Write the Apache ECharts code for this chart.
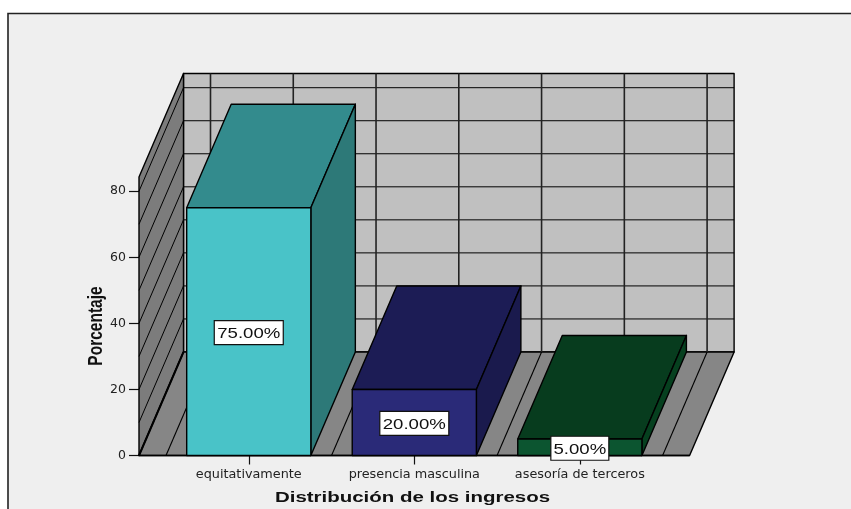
<!DOCTYPE html>
<html>
<head>
<meta charset="utf-8">
<style>html,body{margin:0;padding:0;background:#fff}#c{width:851px;height:509px}</style>
<script src="https://cdn.jsdelivr.net/npm/echarts@6/dist/echarts.min.js"></script>
</head>
<body>
<div id="c"></div>
<script>
const categories = ['equitativamente', 'presencia masculina', 'asesoría de terceros'];
const values = [75, 20, 5];
const valueLabels = ['75.00%', '20.00%', '5.00%'];
const frontColors = ['#49c3c8', '#2a2a78', '#0c5530'];
const topColors = ['#338b8d', '#1c1c55', '#073c1e'];
const sideColors = ['#2d7978', '#1a1a4d', '#06401f'];
const yTicks = [0, 20, 40, 60, 80];
const wallLines = [10, 20, 30, 40, 50, 60, 70, 80];
const axisTop = 84.3;
const xTitle = 'Distribución de los ingresos';
const yTitle = 'Porcentaje';
const depthX = 44.5, depthY = 103.5, sidePad = 27;

const chart = echarts.init(document.getElementById('c'), null, {renderer: 'canvas'});
const black = '#000';

function line(x1, y1, x2, y2, w, color) {
  return {type: 'line', shape: {x1, y1, x2, y2}, style: {stroke: color || black, lineWidth: w || 1}};
}
function poly(points, fill) {
  return {type: 'polygon', shape: {points}, style: {fill, stroke: black, lineWidth: 1.4, lineJoin: 'round'}};
}

function renderRoom(params, api) {
  const band = api.size([1, 0])[0];
  const x0 = api.coord([0, 0])[0] - band / 2;
  const yOf = v => api.coord([0, v])[1];
  const left = x0 - sidePad, right = x0 + 3 * band + sidePad;
  const y0 = yOf(0), yT = yOf(axisTop);
  const kids = [
    poly([[left + depthX, yT - depthY], [right + depthX, yT - depthY], [right + depthX, y0 - depthY], [left + depthX, y0 - depthY]], '#c0c0c0'),
    poly([[left, yT], [left + depthX, yT - depthY], [left + depthX, y0 - depthY], [left, y0]], '#7c7c7c'),
    poly([[left, y0], [right, y0], [right + depthX, y0 - depthY], [left + depthX, y0 - depthY]], '#868686')
  ];
  wallLines.forEach(v => {
    const y = yOf(v);
    kids.push(line(left, y, left + depthX, y - depthY));
    kids.push(line(left + depthX, y - depthY, right + depthX, y - depthY));
  });
  for (let k = 0; k <= 6; k++) {
    const x = x0 + k * band / 2;
    kids.push(line(x + depthX, yT - depthY, x + depthX, y0 - depthY, 1.6, '#222'));
    kids.push(line(x, y0, x + depthX, y0 - depthY, 1.1));
  }
  kids.push(line(left, y0, left + depthX, y0 - depthY, 2));
  kids.push(line(left, y0, right, y0, 1.6));
  return {type: 'group', children: kids};
}

function renderBar(params, api) {
  const i = api.value(0), v = api.value(1);
  const band = api.size([1, 0])[0];
  const w = band * 0.75;
  const cx = api.coord([i, 0])[0];
  const y0 = api.coord([i, 0])[1], yV = api.coord([i, v])[1];
  const l = cx - w / 2, r = cx + w / 2;
  const yMid = (y0 + yV) / 2 + 1;
  const label = valueLabels[i];
  const boxW = label.length === 6 ? 69 : 58;
  return {type: 'group', children: [
    poly([[l, yV], [r, yV], [r + depthX, yV - depthY], [l + depthX, yV - depthY]], topColors[i]),
    poly([[r, y0], [r, yV], [r + depthX, yV - depthY], [r + depthX, y0 - depthY]], sideColors[i]),
    poly([[l, y0], [r, y0], [r, yV], [l, yV]], frontColors[i]),
    {type: 'rect', shape: {x: cx - boxW / 2, y: yMid - 12, width: boxW, height: 24},
      style: {fill: '#fff', stroke: '#111', lineWidth: 1.2}},
    {type: 'text', x: cx, y: yMid + 1, scaleX: 1.2,
      style: {text: label, fill: '#111', font: '15.5px "Liberation Sans"', align: 'center', verticalAlign: 'middle'}}
  ]};
}

chart.setOption({
  animation: false,
  backgroundColor: '#fff',
  graphic: [
    {type: 'rect', z: -10, silent: true, shape: {x: 8, y: 13.5, width: 900, height: 600},
      style: {fill: '#efefef', stroke: '#222', lineWidth: 1.6}},
    {type: 'text', z: 10, silent: true, x: 412.5, y: 498, scaleX: 1.32,
      style: {text: xTitle, fill: '#111', font: 'bold 15.5px "Liberation Sans"', align: 'center', verticalAlign: 'middle'}},
    {type: 'text', z: 10, silent: true, x: 96, y: 326, rotation: Math.PI / 2, scaleY: 1.3,
      style: {text: yTitle, fill: '#111', font: 'bold 15.5px "Liberation Sans"', align: 'center', verticalAlign: 'middle'}}
  ],
  grid: {left: 166, right: 188.4, top: 177, bottom: 53.5},
  xAxis: {
    type: 'category', data: categories,
    axisLine: {show: false},
    axisTick: {show: true, alignWithLabel: true, length: 9, lineStyle: {color: '#111', width: 1.2}},
    axisLabel: {fontFamily: 'DejaVu Sans', fontSize: 12.8, color: '#222', margin: 13, interval: 0}
  },
  yAxis: {
    type: 'value', min: 0, max: axisTop, offset: 27,
    splitLine: {show: false},
    axisLine: {show: false},
    axisTick: {show: true, length: 10, customValues: yTicks, lineStyle: {color: '#111', width: 1.2}},
    axisLabel: {fontFamily: 'DejaVu Sans', fontSize: 12.5, color: '#222', margin: 13, padding: [4, 0, 0, 0], customValues: yTicks}
  },
  series: [
    {type: 'custom', z: 1, clip: false, silent: true, renderItem: renderRoom, data: [[0, 0]], encode: {x: 0, y: 1}},
    {type: 'custom', z: 2, clip: false, silent: true, renderItem: renderBar,
      data: values.map((v, i) => [i, v]), encode: {x: 0, y: 1}}
  ]
});
</script>
</body>
</html>
